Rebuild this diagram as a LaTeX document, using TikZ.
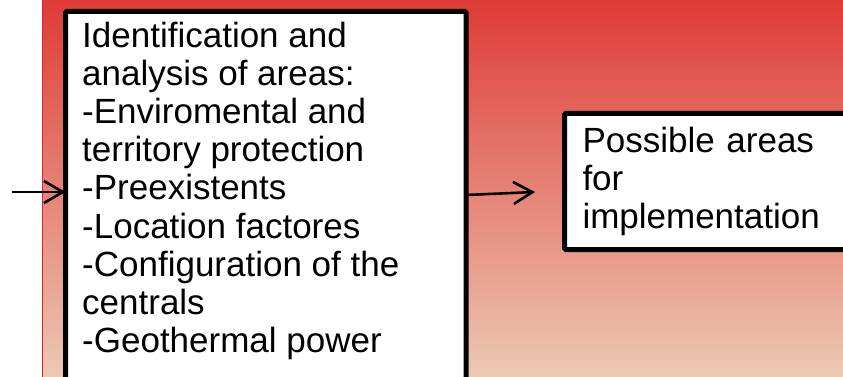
\documentclass[tikz,border=0pt]{standalone}
\usepackage{fontspec}
\setmainfont{Liberation Sans}
\usepackage{xcolor}
\definecolor{flame}{HTML}{DF3B36}
\definecolor{peach}{HTML}{ECC9B4}
\definecolor{scarlet}{HTML}{E8202A}
\usetikzlibrary{arrows.meta,positioning}
\tikzset{
  >={Straight Barb[length=19pt,width=22pt]},
  box/.style  ={draw=black,fill=white,line width=5pt,rounded corners=1.5pt,
                anchor=north west,outer sep=0pt,inner sep=0pt},
  txt/.style  ={font=\fontsize{35}{38.2}\selectfont,align=left,
                anchor=north west,inner sep=0pt},
  flow/.style ={->,draw=black,line width=2.6pt},
}

\begin{document}
\begin{tikzpicture}[x=1pt,y=-1pt]
\useasboundingbox (0,0) rectangle (843,377);
% background
\shade[top color=flame,bottom color=peach] (43,0) rectangle (843,377);
\draw[scarlet,line width=1.4pt] (42.5,0) -- (42.5,377);
% analysis box
\node[box,minimum width=400.5pt,minimum height=372pt] (areas) at (65.5,11.5) {};
\node[txt] (areastext) at (82,21.5)
  {Identification and\\analysis of areas:\\-Enviromental and\\territory protection\\-Preexistents\\-Location factores\\-Configuration of the\\centrals\\-Geothermal power};
% result box
\node[box,minimum width=290pt,minimum height=136pt,text width=254pt,
      inner xsep=18pt,align=left,font=\fontsize{35}{38.2}\selectfont]
  (possible) at (564.5,113.5) {Possible areas\\for\\implementation};
% arrows
\coordinate (feed) at (12,192);
\coordinate (gap) at (535,192);
\draw[flow] (feed) -- (areas.west |- feed);
\draw[flow] ([yshift=2.5pt]areas.east) -- (gap);
\end{tikzpicture}
\end{document}
